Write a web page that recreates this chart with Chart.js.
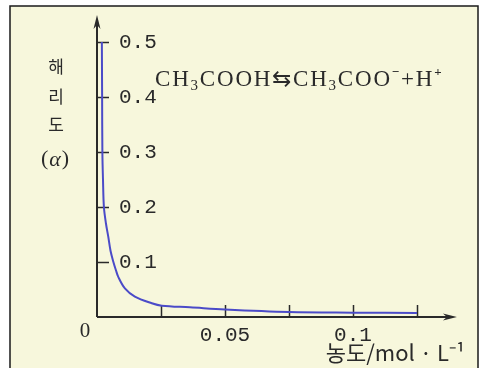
<!DOCTYPE html>
<html>
<head>
<meta charset="utf-8">
<script src="https://cdn.jsdelivr.net/npm/chart.js@4/dist/chart.umd.min.js"></script>
<style>
  html, body { margin: 0; padding: 0; background: #ffffff; }
  #wrap { width: 481px; height: 368px; }
</style>
</head>
<body>
<div id="wrap"><canvas id="c" width="481" height="368"></canvas></div>
<script>
// Concentration (mol/L) and degree of dissociation
const concentration = [0.0019, 0.0020, 0.0021, 0.00234, 0.0027, 0.0035, 0.0044, 0.0053, 0.0064, 0.0074, 0.0083, 0.0109, 0.0148, 0.0214, 0.0253, 0.0363, 0.05, 0.075, 0.1, 0.125];
const dissociation  = [0.50,   0.40,   0.30,   0.25,    0.20,   0.17,   0.146,  0.12,   0.100,  0.085,  0.073,  0.052,  0.037,  0.025,  0.0205, 0.0176, 0.0136, 0.009, 0.0078, 0.0073];

const xTickValues = [0.025, 0.05, 0.075, 0.1, 0.125];
const xTickLabels = ['', '0.05', '', '0.1', ''];
const yTickValues = [0.1, 0.2, 0.3, 0.4, 0.5];
const yTickLabels = ['0.1', '0.2', '0.3', '0.4', '0.5'];

const xAxisTitle = '농도/mol · L⁻¹';
const yAxisTitle = ['해', '리', '도'];
const originLabel = '0';

const INK = '#2a2a2a';
const BG = '#f7f7dc';

const decor = {
  id: 'decor',
  beforeDraw(chart) {
    const ctx = chart.ctx;
    ctx.save();
    ctx.fillStyle = '#ffffff';
    ctx.fillRect(0, 0, chart.width, chart.height);
    ctx.fillStyle = BG;
    ctx.fillRect(10, 6, 468, 364);
    ctx.strokeStyle = '#1a1a1a';
    ctx.lineWidth = 1.5;
    ctx.strokeRect(10, 6, 468, 364);
    ctx.restore();
  },
  beforeDatasetsDraw(chart) {
    const ctx = chart.ctx;
    const xs = chart.scales.x, ys = chart.scales.y;
    const x0 = xs.getPixelForValue(0);
    const y0 = ys.getPixelForValue(0);
    const xEnd = xs.getPixelForValue(0.1406);
    const yEnd = ys.getPixelForValue(0.549);
    ctx.save();
    ctx.strokeStyle = INK;
    ctx.fillStyle = INK;
    ctx.lineWidth = 2;
    ctx.beginPath();
    ctx.moveTo(x0, y0);
    ctx.lineTo(xEnd - 8, y0);
    ctx.moveTo(x0, y0);
    ctx.lineTo(x0, yEnd + 8);
    ctx.stroke();
    ctx.beginPath();
    ctx.moveTo(xEnd, y0);
    ctx.lineTo(xEnd - 14, y0 - 3.5);
    ctx.lineTo(xEnd - 10, y0);
    ctx.lineTo(xEnd - 14, y0 + 3.5);
    ctx.closePath();
    ctx.fill();
    ctx.beginPath();
    ctx.moveTo(x0, yEnd);
    ctx.lineTo(x0 - 3.5, yEnd + 14);
    ctx.lineTo(x0, yEnd + 10);
    ctx.lineTo(x0 + 3.5, yEnd + 14);
    ctx.closePath();
    ctx.fill();
    ctx.lineWidth = 1.5;
    ctx.beginPath();
    xTickValues.forEach(v => {
      const px = Math.round(xs.getPixelForValue(v)) + 0.5;
      ctx.moveTo(px, y0);
      ctx.lineTo(px, y0 - 12);
    });
    yTickValues.forEach(v => {
      const py = Math.round(ys.getPixelForValue(v)) + 0.5;
      ctx.moveTo(x0, py);
      ctx.lineTo(x0 + 12, py);
    });
    ctx.stroke();
    ctx.restore();
  },
  afterDraw(chart) {
    const ctx = chart.ctx;
    const xs = chart.scales.x, ys = chart.scales.y;
    ctx.save();
    ctx.fillStyle = INK;
    ctx.textBaseline = 'middle';
    ctx.textAlign = 'center';
    ctx.font = '21px "Liberation Serif"';
    ctx.fillText(originLabel, xs.getPixelForValue(0) - 12, ys.getPixelForValue(0) + 14);
    ctx.font = '17px "Noto Sans CJK KR"';
    const ty = [67, 97, 125];
    yAxisTitle.forEach((t, i) => ctx.fillText(t, 56, ty[i]));
    ctx.font = '22px "Liberation Serif"';
    ctx.textAlign = 'left';
    const pw = ctx.measureText('(').width;
    ctx.font = 'italic 22px "Liberation Serif"';
    const aw = ctx.measureText('α').width;
    const total = pw * 2 + aw + 2;
    let sx = 55 - total / 2;
    ctx.font = '22px "Liberation Serif"';
    ctx.fillText('(', sx, 159); sx += pw + 1;
    ctx.font = 'italic 22px "Liberation Serif"';
    ctx.fillText('α', sx, 160); sx += aw + 1;
    ctx.font = '22px "Liberation Serif"';
    ctx.fillText(')', sx, 159);
    const segs = [
      ['CH', 'n'], ['3', 'sub'], ['COOH', 'n'], ['⇆', 'n'], ['CH', 'n'], ['3', 'sub'],
      ['COO', 'n'], ['−', 'sup'], ['+H', 'n'], ['+', 'sup']
    ];
    ctx.textBaseline = 'alphabetic';
    ctx.letterSpacing = '1.8px';
    let ex = 155;
    const base = 86;
    segs.forEach(([t, k]) => {
      if (k === 'n') { ctx.font = '23px "Liberation Serif"'; ctx.fillText(t, ex, base); }
      else if (k === 'sub') { ctx.font = '15px "Liberation Serif"'; ctx.fillText(t, ex, base + 4); }
      else { ctx.font = 'bold 13px "Liberation Serif"'; ctx.fillText(t, ex, base - 10); }
      ex += ctx.measureText(t).width;
    });
    ctx.restore();
  }
};

new Chart(document.getElementById('c'), {
  type: 'line',
  data: {
    datasets: [{
      data: concentration.map((c, i) => ({ x: c, y: dissociation[i] })),
      borderColor: '#4b4bc8',
      borderWidth: 2,
      pointRadius: 0,
      fill: false,
      tension: 0.35
    }]
  },
  options: {
    responsive: false,
    animation: false,
    devicePixelRatio: 1,
    layout: { padding: { left: 97, top: 15, right: 16, bottom: 0 } },
    plugins: { legend: { display: false }, tooltip: { enabled: false } },
    scales: {
      x: {
        type: 'linear',
        min: 0,
        max: 0.14375,
        afterBuildTicks: s => { s.ticks = xTickValues.map(v => ({ value: v })); },
        afterFit: s => { s.height = 51; s.paddingLeft = 0; s.paddingRight = 0; },
        grid: { display: false },
        border: { display: false },
        ticks: {
          autoSkip: false,
          maxRotation: 0,
          padding: -2,
          color: INK,
          font: { family: '"Liberation Mono"', size: 21 },
          callback: (v, i) => xTickLabels[i]
        },
        title: {
          display: true,
          text: xAxisTitle,
          align: 'end',
          color: INK,
          font: { family: '"Noto Sans CJK KR"', size: 22 },
          padding: { top: 0, bottom: 2 }
        }
      },
      y: {
        type: 'linear',
        min: 0,
        max: 0.549,
        afterBuildTicks: s => { s.ticks = yTickValues.map(v => ({ value: v })); },
        afterFit: s => { s.width = 0; s.paddingTop = 0; s.paddingBottom = 0; },
        grid: { display: false },
        border: { display: false },
        ticks: {
          mirror: true,
          padding: 22,
          color: INK,
          font: { family: '"Liberation Mono"', size: 21 },
          callback: (v, i) => yTickLabels[i]
        }
      }
    }
  },
  plugins: [decor]
});
</script>
</body>
</html>
